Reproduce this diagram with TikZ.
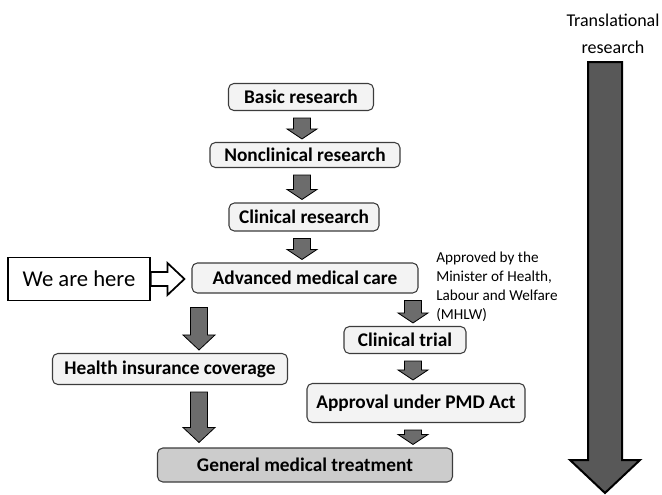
\documentclass[tikz,border=0pt]{standalone}
\usepackage{fontspec}
\setmainfont{Carlito}
\usepackage{tikz}
\usetikzlibrary{calc,positioning}
\definecolor{boxline}{RGB}{60,60,60}
\definecolor{boxfill}{RGB}{243,243,243}
\definecolor{endfill}{RGB}{204,204,204}
\definecolor{stepgray}{RGB}{108,108,108}
\definecolor{bargray}{RGB}{88,88,88}

\begin{document}
\begin{tikzpicture}[x=0.75pt, y=-0.75pt,
  box/.style={draw=boxline, line width=0.8pt, rounded corners=4pt,
              fill=boxfill, inner sep=0pt, align=center,
              font=\fontsize{14.5}{17}\selectfont\bfseries},
  blk/.style n args={3}{draw=black, line width=0.6pt, fill=stepgray,
              to path={let \p1=(\tikztostart), \p2=(\tikztotarget) in
                (\x1-#1,\y1) -- (\x1-#1,\y2+#3) -- (\x1-#2,\y2+#3) -- (\x1,\y2)
                -- (\x1+#2,\y2+#3) -- (\x1+#1,\y2+#3) -- (\x1+#1,\y1) -- cycle}},
  small/.style={blk={6.4pt}{11.25pt}{7.5pt}},
  long/.style={blk={6.4pt}{12pt}{11.25pt}},
  hollow/.style={draw=black, line width=1.3pt, fill=white,
              to path={let \p1=(\tikztostart), \p2=(\tikztotarget) in
                (\x1,\y1-5.25pt) -- (\x2-12.75pt,\y1-5.25pt) -- (\x2-12.75pt,\y1-12pt)
                -- (\x2,\y1) -- (\x2-12.75pt,\y1+12pt) -- (\x2-12.75pt,\y1+5.25pt)
                -- (\x1,\y1+5.25pt) -- cycle}},
  note/.style={font=\fontsize{11.4}{14.2}\selectfont, align=left, inner sep=0pt},
]
\useasboundingbox (0,0) rectangle (662,494);

% columns of the block arrows
\coordinate (colA) at (302,0);
\coordinate (colB) at (413,0);
\coordinate (colL) at (199,0);

% main path
\node[box, minimum width=108.75pt, minimum height=20.25pt] (basic) at (301,97) {Basic research};
\node[box, minimum width=142.5pt, minimum height=18.75pt] (noncl) at (305,155) {Nonclinical research};
\node[box, minimum width=112.5pt, minimum height=21pt] (clinres) at (304,217) {Clinical research};
\node[box, minimum width=169.5pt, minimum height=22.5pt] (adv) at (305,278) {Advanced medical care};

% we are here
\node[draw=black, line width=1.2pt, fill=white, minimum width=106.5pt, minimum height=32.25pt,
      inner sep=0pt, font=\fontsize{17}{20}\selectfont] (here) at (79,279) {We are here};

% two routes after advanced care
\node[box, minimum width=176.25pt, minimum height=23.25pt] (health) at (170,369) {Health insurance coverage};
\node[box, minimum width=91.5pt, minimum height=20.25pt] (trial) at (405,340) {Clinical trial};
\node[box, minimum width=163.5pt, minimum height=29.25pt] (pmd) at (416,403) {Approval under PMD Act};
\node[box, fill=endfill, minimum width=221.25pt, minimum height=25.5pt] (general) at (305,465) {General medical treatment};

\node[note, anchor=west] (mhlw) at (436,287) {Approved by the\\Minister of Health,\\Labour and Welfare\\(MHLW)};

% translational research
\node[align=center, inner sep=0pt, font=\fontsize{13.5}{20}\selectfont] (trlabel) at (613,34) {Translational\\research};
\coordinate (trtop) at (605,62);
\coordinate (trend) at (605,493);

\draw[small] ($(basic.south -| colA)+(0,7)$) to ($(noncl.north -| colA)+(0,-3)$);
\draw[small] ($(noncl.south -| colA)+(0,7)$) to ($(clinres.north -| colA)+(0,-3)$);
\draw[small] ($(clinres.south -| colA)+(0,7)$) to ($(adv.north -| colA)+(0,-3)$);
\draw[small] ($(adv.south -| colB)+(0,7)$) to ($(trial.north -| colB)+(0,-3)$);
\draw[small] ($(trial.south -| colB)+(0,7)$) to ($(pmd.north -| colB)+(0,-3)$);
\draw[small] ($(pmd.south -| colB)+(0,7)$) to ($(general.north -| colB)+(0,-3)$);
\draw[long] ($(adv.south -| colL)+(0,14)$) to ($(health.north -| colL)+(0,-3)$);
\draw[long] ($(health.south -| colL)+(0,7)$) to ($(general.north -| colL)+(0,-5)$);

\draw[hollow] (here.east) to ($(adv.west)+(-7,0)$);

\draw[blk={12.75pt}{26.25pt}{24.75pt}, fill=bargray, line width=1.5pt] (trtop) to (trend);
\end{tikzpicture}
\end{document}
